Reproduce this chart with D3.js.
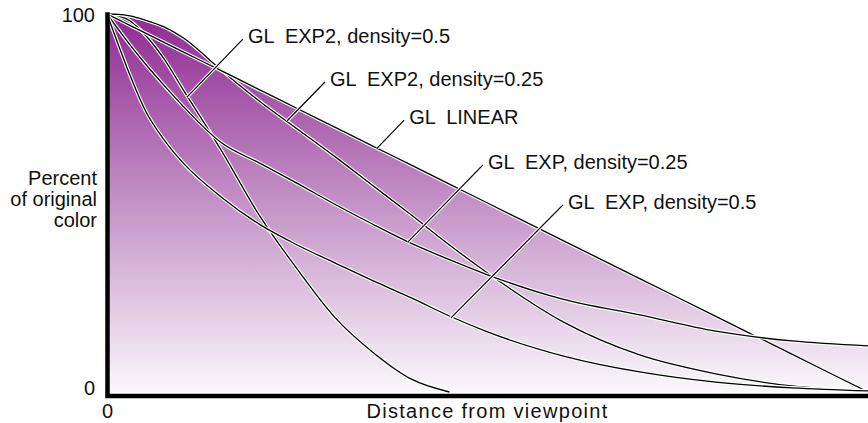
<!DOCTYPE html>
<html>
<head>
<meta charset="utf-8">
<script src="https://cdn.jsdelivr.net/npm/d3@7"></script>
<style>
  body { margin: 0; background: #fff; }
  text { font-family: "Liberation Sans", Arial, Helvetica, sans-serif; font-size: 20px; fill: #111; }
  .lbl { white-space: pre; }
</style>
</head>
<body>
<div id="chart"></div>
<script>
// distance from viewpoint (0 = eye, 1 = far end) and percent of original color
const distance  = [0, 0.015, 0.03, 0.05, 0.075, 0.1, 0.15, 0.2, 0.25, 0.3, 0.35, 0.4, 0.45, 0.5, 0.6, 0.7, 0.8, 0.9, 1];
const linearPct = [100, 98.5, 97, 95, 92.5, 90, 85, 80, 75, 70, 65, 60, 55, 50, 40, 30, 20, 10, 0];
const exp2Quarter = [100, 99.9, 99.5, 98.4, 96.6, 93.7, 85.2, 77.0, 69.6, 62.2, 54.5, 46.8, 38.9, 31.5, 18.5, 9.8, 4.8, 1.6, 0.3];
const exp2Half    = [100, 99.5, 98.2, 94.5, 88.1, 80.0, 64.0, 46.8, 32.5, 19.6, 10.4, 3.4, 0, null, null, null, null, null, null];
const expQuarter  = [100, 95.9, 91.9, 86.9, 81.1, 75.6, 66.0, 60.6, 55.2, 49.6, 44.3, 39.3, 35.0, 31.0, 24.5, 20.4, 16.1, 13.5, 12.2];
const expHalf     = [100, 91.8, 83.9, 74.6, 66.7, 60.6, 51.6, 44.4, 38.9, 34.1, 29.4, 24.9, 20.1, 15.9, 9.5, 5.3, 2.6, 1.1, 0.3];

const xTicks = [0, 1];
const yTicks = [0, 100];
const yTitle = ['Percent', 'of original', 'color'];

const series = [
  { name: 'GL  EXP2, density=0.5',  values: exp2Half },
  { name: 'GL  EXP2, density=0.25', values: exp2Quarter },
  { name: 'GL  LINEAR',             values: linearPct },
  { name: 'GL  EXP, density=0.25',  values: expQuarter },
  { name: 'GL  EXP, density=0.5',   values: expHalf }
];

// where each leader line touches its curve, plus the leader's length in px
const notes = [
  { s: 0, d: 0.105, pct: 78.0, dx: 56,  dy: -58 },
  { s: 1, d: 0.2365, pct: 71.7, dx: 38, dy: -39 },
  { s: 2, d: 0.355, pct: 64.5, dx: 27,  dy: -28 },
  { s: 3, d: 0.3955, pct: 39.7, dx: 75, dy: -77 },
  { s: 4, d: 0.452, pct: 19.6, dx: 112, dy: -113 }
];

const width = 868, height = 423;
const x = d3.scaleLinear().domain([0, 1]).range([107, 868]);
const y = d3.scaleLinear().domain([0, 100]).range([392, 14]);

const svg = d3.select('#chart').append('svg')
  .attr('width', width)
  .attr('height', height);

const defs = svg.append('defs');
const grad = defs.append('linearGradient')
  .attr('id', 'fog')
  .attr('gradientUnits', 'userSpaceOnUse')
  .attr('x1', 0).attr('y1', y(100))
  .attr('x2', 0).attr('y2', y(0));
grad.append('stop').attr('offset', '0%').attr('stop-color', '#8e2b92');
grad.append('stop').attr('offset', '100%').attr('stop-color', '#faf8fb');

const pts = s => distance.map((d, i) => [d, s.values[i]]);

const area = d3.area()
  .defined(p => p[1] != null)
  .x(p => x(p[0]))
  .y0(y(0))
  .y1(p => y(p[1]))
  .curve(d3.curveMonotoneX);

const line = d3.line()
  .defined(p => p[1] != null)
  .x(p => x(p[0]))
  .y(p => y(p[1]))
  .curve(d3.curveMonotoneX);

// union of the areas under every curve
svg.append('g').selectAll('path')
  .data(series)
  .enter()
  .append('path')
  .attr('d', s => area(pts(s)))
  .attr('fill', 'url(#fog)');

const curves = svg.append('g').selectAll('g')
  .data(series)
  .enter()
  .append('g');

curves.append('path')
  .attr('d', s => line(pts(s)))
  .attr('fill', 'none')
  .attr('stroke', '#fff')
  .attr('stroke-width', 3.6);

curves.append('path')
  .attr('d', s => line(pts(s)))
  .attr('fill', 'none')
  .attr('stroke', '#000')
  .attr('stroke-width', 1.3);

// leader lines and labels
const note = svg.append('g').selectAll('g')
  .data(notes)
  .enter()
  .append('g');

note.append('line')
  .attr('x1', n => x(n.d)).attr('y1', n => y(n.pct))
  .attr('x2', n => x(n.d) + n.dx).attr('y2', n => y(n.pct) + n.dy)
  .attr('stroke', '#fff')
  .attr('stroke-width', 3.4);

note.append('line')
  .attr('x1', n => x(n.d)).attr('y1', n => y(n.pct))
  .attr('x2', n => x(n.d) + n.dx).attr('y2', n => y(n.pct) + n.dy)
  .attr('stroke', '#000')
  .attr('stroke-width', 1.2);

note.append('text')
  .attr('class', 'lbl')
  .attr('x', n => x(n.d) + n.dx + 5)
  .attr('y', n => y(n.pct) + n.dy + 4)
  .text(n => series[n.s].name);

// axes: thick black bars
const yAxis = svg.append('g')
  .attr('transform', `translate(${x(0)},0)`)
  .call(d3.axisLeft(y).tickValues(yTicks).tickSize(0).tickSizeOuter(0).tickPadding(12));

const xAxis = svg.append('g')
  .attr('transform', `translate(0,${y(0) + 3.5})`)
  .call(d3.axisBottom(x).tickValues(xTicks).tickSize(0).tickSizeOuter(0).tickPadding(8).tickFormat(d3.format('d')));

svg.selectAll('.domain')
  .attr('stroke', '#000')
  .attr('stroke-width', 4.5)
  .attr('stroke-linecap', 'square');

svg.selectAll('.tick text')
  .attr('font-family', null)
  .attr('font-size', null)
  .attr('fill', null);

yAxis.selectAll('.tick text')
  .attr('dy', d => d === 0 ? '0.1em' : '0.37em');

xAxis.selectAll('.tick text')
  .filter(d => d === 1)
  .attr('x', 4);

svg.append('text')
  .attr('text-anchor', 'end')
  .selectAll('tspan')
  .data(yTitle)
  .enter()
  .append('tspan')
  .attr('x', 97)
  .attr('y', (t, i) => 185 + i * 21)
  .text(t => t);

svg.append('text')
  .attr('text-anchor', 'middle')
  .attr('x', (x(0) + x(1)) / 2)
  .attr('y', 418)
  .attr('letter-spacing', 1.3)
  .text('Distance from viewpoint');
</script>
</body>
</html>
